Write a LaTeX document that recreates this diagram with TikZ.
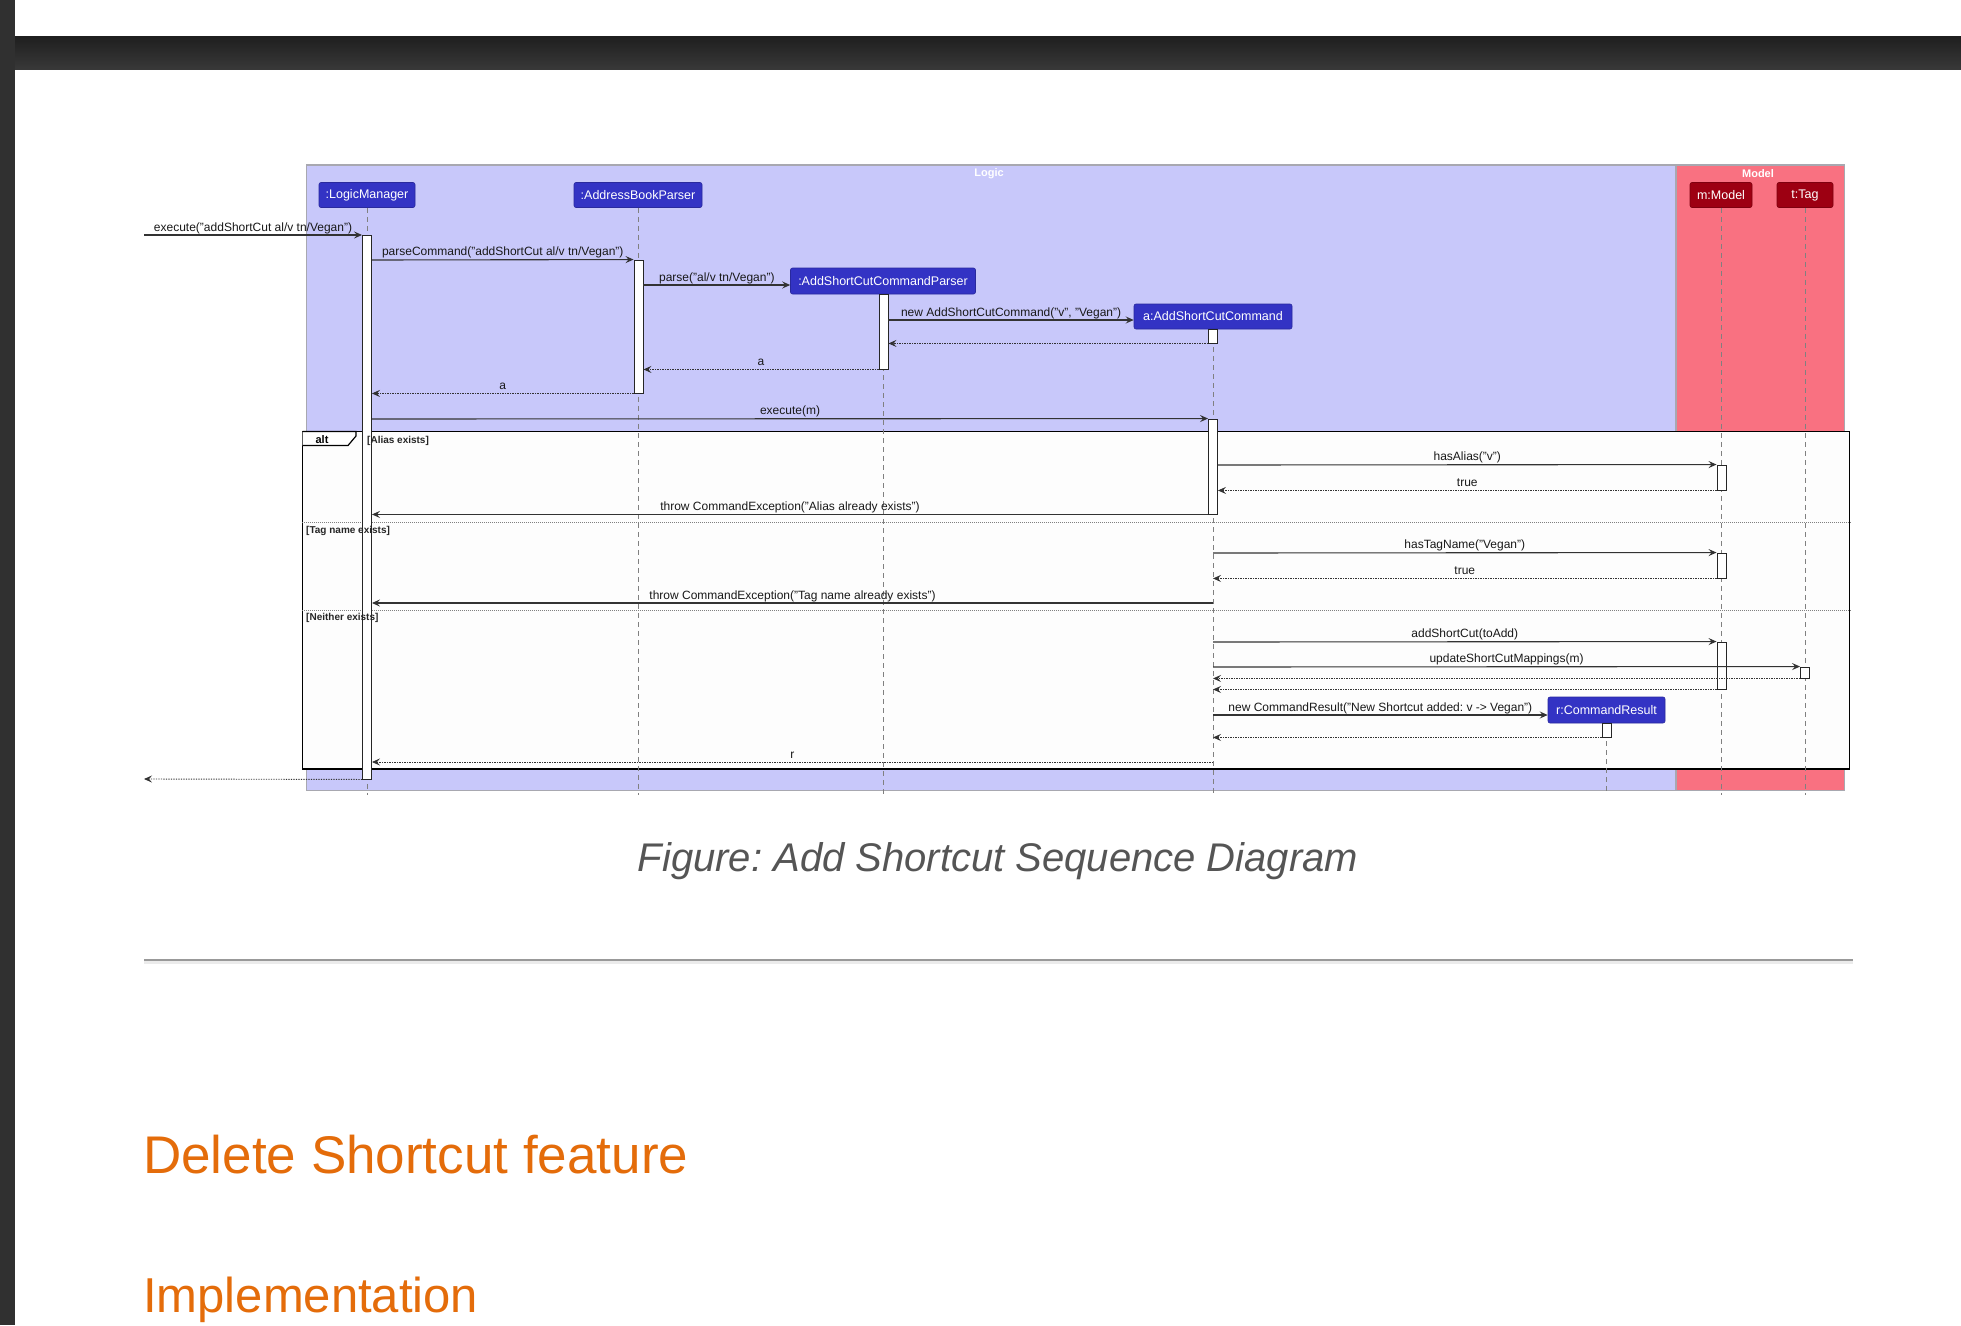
\documentclass[tikz,border=0pt]{standalone}
\usepackage{fontspec}
\setmainfont{Liberation Sans}
\usetikzlibrary{arrows.meta}
\frenchspacing
\definecolor{logicC}{HTML}{3333C4}
\definecolor{logicBg}{HTML}{C8C8FA}
\definecolor{modelC}{HTML}{9D0012}
\definecolor{modelBg}{HTML}{F97181}
\definecolor{headOrange}{RGB}{228,108,10}
\definecolor{capGray}{HTML}{555555}
\definecolor{bandC}{HTML}{303030}
\definecolor{boxLine}{HTML}{A8A8B0}
\definecolor{ruleGray}{HTML}{999999}
\definecolor{ruleLight}{HTML}{EBEBEB}
\definecolor{frameFill}{HTML}{FDFDFD}
\tikzset{
  part/.style={rounded corners=2pt, inner sep=0pt, minimum height=25pt, text=white, font=\fontsize{12.5}{14}\selectfont, line width=0.6pt},
  lpart/.style={part, fill=logicC, draw=logicC!80!black},
  mpart/.style={part, fill=modelC, draw=modelC!80!black},
  life/.style={draw=black!50, line width=0.8pt, dash pattern=on 5pt off 4pt},
  act/.style={draw=black!85, fill=white, line width=0.9pt, inner sep=0pt, minimum width=9pt},
  msg/.style={draw=black!80, line width=1.1pt, -{Stealth[length=8pt,width=7pt,inset=3pt]}},
  ret/.style={msg, line width=0.9pt, dash pattern=on 1.2pt off 1.3pt},
  lbl/.style={font=\fontsize{12}{14}\selectfont, text=black!90, inner sep=0pt, anchor=base, yshift=4pt},
  guard/.style={font=\bfseries\fontsize{10}{12}\selectfont, inner sep=0pt, anchor=base west, text=black!85},
  sepline/.style={draw=black!50, line width=0.8pt, dash pattern=on 1pt off 1pt},
  boxtitle/.style={font=\bfseries\fontsize{11}{13}\selectfont, text=white, inner sep=0pt},
}
\begin{document}
\begin{tikzpicture}[x=1pt, y=-1pt]
\useasboundingbox (0,0) rectangle (1961,1325);
\clip (0,0) rectangle (1961,1325);
% page background
\fill[white] (0,0) rectangle (1961,1325);
\shade[top color=black!88, bottom color=black!78] (0,36) rectangle (1961,69);
\fill[bandC] (0,0) rectangle (15,1325);
% boxes
\draw[fill=logicBg, draw=boxLine, line width=1.5pt] (306.4,165) rectangle (1675.8,790.4);
\draw[fill=modelBg, draw=boxLine, line width=1.5pt] (1675.8,165) rectangle (1844.6,790.4);
\node[boxtitle] (logicT) at (989,174) {Logic};
\node[boxtitle] (modelT) at (1758,174) {Model};
% alt frame
\node[draw=black, line width=1.6pt, fill=frameFill, inner sep=0pt, minimum width=1547pt, minimum height=337.6pt] (altF) at (1076.1,600.3) {};
\draw[fill=white, line width=1.2pt] (302.6,431.5) -- (356,431.5) -- (356,436) -- (348,445.5) -- (302.6,445.5);
\node[font=\bfseries\fontsize{11}{13}\selectfont, inner sep=0pt, anchor=base] (altL) at (322,443.5) {alt};
\draw[sepline] (altF.west |- 0,522.8) -- (altF.east |- 0,522.8);
\draw[sepline] (altF.west |- 0,610.3) -- (altF.east |- 0,610.3);
% participants
\node[lpart, minimum width=96pt] (lm) at (367,195) {:LogicManager};
\node[lpart, minimum width=128pt] (abp) at (638,195) {:AddressBookParser};
\node[lpart, minimum width=185pt, minimum height=26pt] (asccp) at (883,281) {:AddShortCutCommandParser};
\node[lpart, minimum width=158pt] (ascc) at (1213,316.5) {a:AddShortCutCommand};
\node[lpart, minimum width=117pt, minimum height=26pt] (cr) at (1606.5,710) {r:CommandResult};
\node[mpart, minimum width=62pt] (mdl) at (1721,195) {m:Model};
\node[mpart, minimum width=56pt] (tag) at (1805,195) {t:Tag};
% lifelines
\foreach \n in {lm,abp,asccp,ascc,cr,mdl,tag}
  \draw[life] (\n.south) -- (\n.south |- 0,795);
% activation bars
\node[act, minimum height=544pt] (lmA) at (367,507) {};
\node[act, minimum height=133pt] (abpA) at (638.5,326.5) {};
\node[act, minimum height=75pt] (asccpA) at (883.5,331.5) {};
\node[act, minimum height=14pt] (asccA1) at (1213,336) {};
\node[act, minimum height=95pt] (asccA2) at (1213,466.5) {};
\node[act, minimum height=25pt] (mdlA1) at (1721.5,477.5) {};
\node[act, minimum height=25pt] (mdlA2) at (1721.5,565.5) {};
\node[act, minimum height=47pt] (mdlA3) at (1721.5,665.5) {};
\node[act, minimum height=11pt] (tagA) at (1805,672.5) {};
\node[act, minimum height=14pt] (crA) at (1606.5,730) {};
% guards (drawn over the bars)
\node[guard] (g1) at (367,443.5) {[Alias exists]};
\node[guard] (g2) at (306,533) {[Tag name exists]};
\node[guard] (g3) at (306,620.5) {[Neither exists]};
% free ends
\coordinate (entry) at (144,235);
\coordinate (exitp) at (144,779);
% messages
\draw[msg] (entry) -- (lmA.west |- 0,235) node[lbl, midway] {execute("addShortCut al/v tn/Vegan")};
\draw[msg] (lmA.east |- 0,260) -- (abpA.north west) node[lbl, midway] {parseCommand("addShortCut al/v tn/Vegan")};
\draw[msg] (abpA.east |- 0,285) -- (asccp.west |- 0,285) node[lbl, midway] {parse("al/v tn/Vegan")};
\draw[msg] (asccpA.east |- 0,320) -- (ascc.west |- 0,320) node[lbl, midway] {new AddShortCutCommand("v", "Vegan")};
\draw[ret] (asccA1.south west) -- (asccpA.east |- asccA1.south);
\draw[ret] (asccpA.south west) -- (abpA.east |- asccpA.south) node[lbl, midway] {a};
\draw[ret] (abpA.south west) -- (lmA.east |- abpA.south) node[lbl, midway] {a};
\draw[msg] (lmA.east |- 0,419) -- (asccA2.north west) node[lbl, midway] {execute(m)};
\draw[msg] (asccA2.east |- 0,465) -- (mdlA1.north west) node[lbl, midway] {hasAlias("v")};
\draw[ret] (mdlA1.south west) -- (asccA2.east |- mdlA1.south) node[lbl, midway] {true};
\draw[msg] (asccA2.south west) -- (lmA.east |- asccA2.south) node[lbl, midway] {throw CommandException("Alias already exists")};
\draw[msg] (ascc.south |- 0,553) -- (mdlA2.north west) node[lbl, midway] {hasTagName("Vegan")};
\draw[ret] (mdlA2.south west) -- (ascc.south |- mdlA2.south) node[lbl, midway] {true};
\draw[msg] (ascc.south |- 0,603) -- (lmA.east |- 0,603) node[lbl, midway] {throw CommandException("Tag name already exists")};
\draw[msg] (ascc.south |- 0,642) -- (mdlA3.north west) node[lbl, midway] {addShortCut(toAdd)};
\draw[msg] (ascc.south |- 0,667) -- (tagA.north west) node[lbl, midway] {updateShortCutMappings(m)};
\draw[ret] (tagA.south west) -- (ascc.south |- tagA.south);
\draw[ret] (mdlA3.south west) -- (ascc.south |- mdlA3.south);
\draw[msg] (ascc.south |- 0,715) -- (cr.west |- 0,715) node[lbl, midway] {new CommandResult("New Shortcut added: v -> Vegan")};
\draw[ret] (crA.south west) -- (ascc.south |- crA.south);
\draw[ret] (ascc.south |- 0,762) -- (lmA.east |- 0,762) node[lbl, midway] {r};
\draw[ret] (lmA.south west) -- (exitp);
% caption, rule, headings
\node[anchor=base, inner sep=0pt, text=capGray, font=\itshape\fontsize{40}{48}\selectfont] (cap) at (998,871) {Figure: Add Shortcut Sequence Diagram};
\draw[ruleGray, line width=2.5pt] (144,960) -- (1853,960);
\draw[ruleLight, line width=2.5pt] (144,962.5) -- (1853,962.5);
\node[anchor=base west, inner sep=0pt, text=headOrange, font=\fontsize{53}{60}\selectfont] (h1) at (143,1173) {Delete Shortcut feature};
\node[anchor=base west, inner sep=0pt, text=headOrange, font=\fontsize{49}{56}\selectfont] (h2) at (143,1312) {Implementation};
\end{tikzpicture}
\end{document}
